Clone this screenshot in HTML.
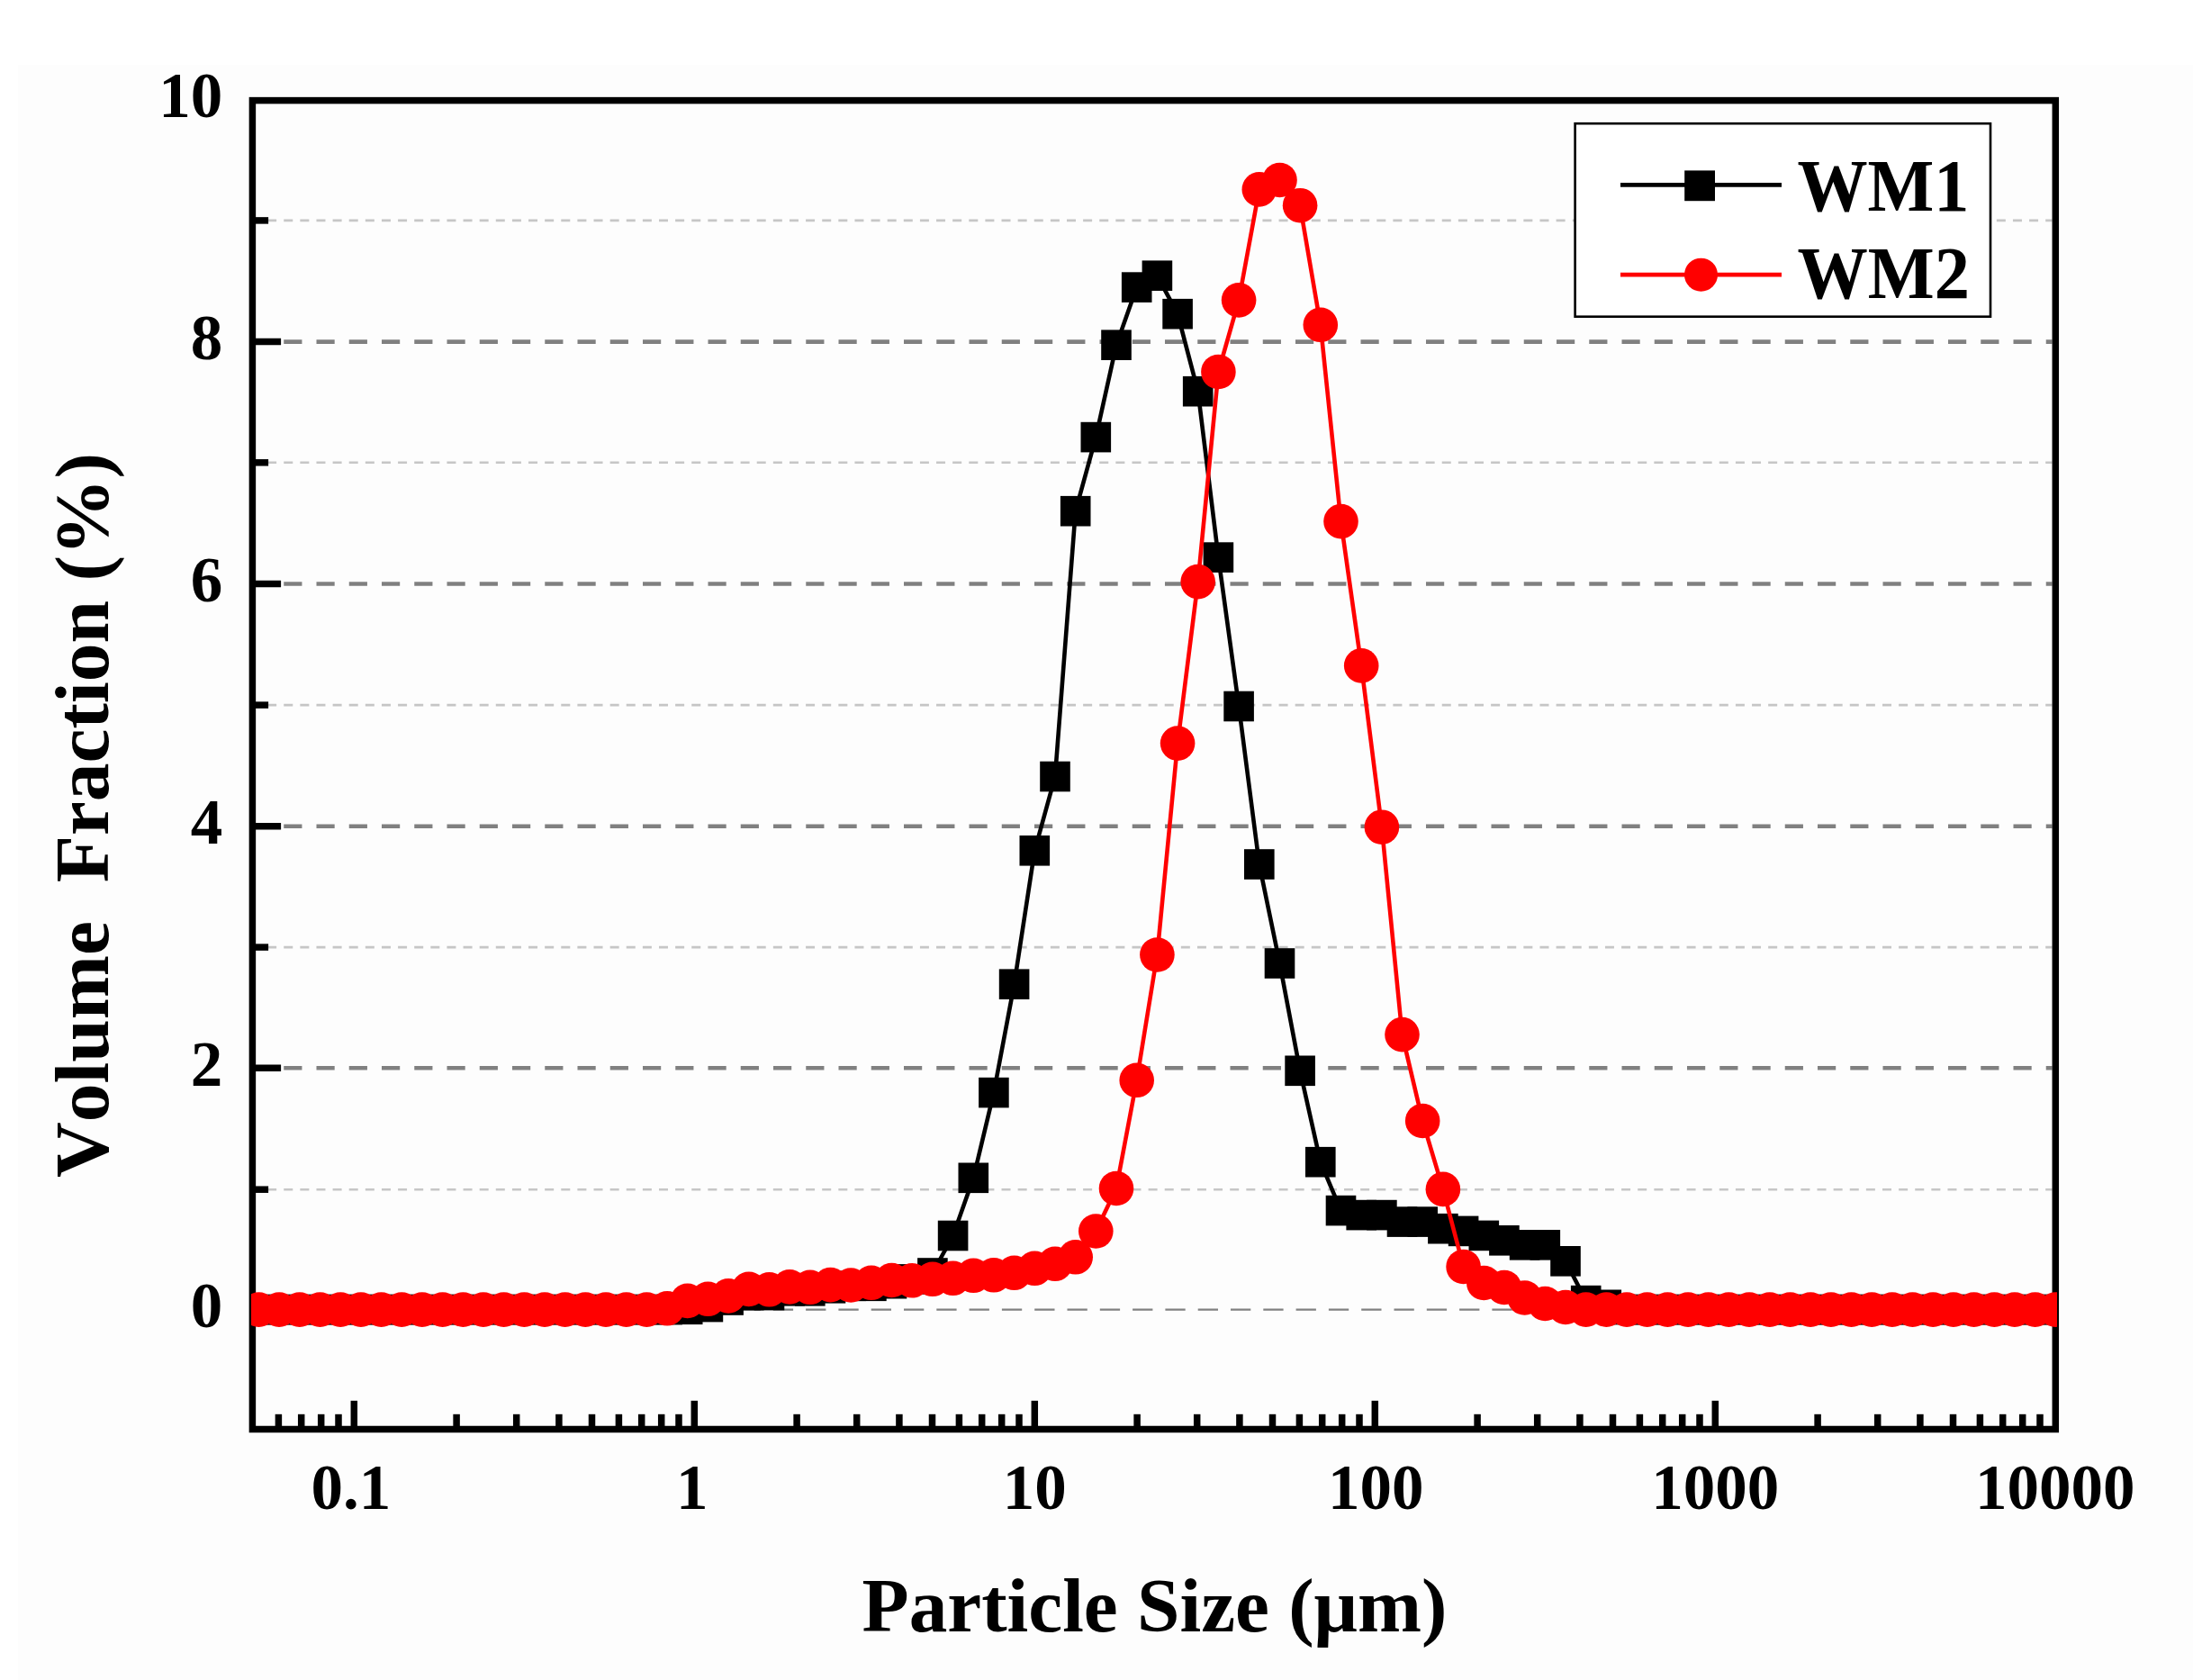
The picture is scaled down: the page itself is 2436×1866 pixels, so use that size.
<!DOCTYPE html>
<html lang="en"><head><meta charset="utf-8">
<title>Particle size distribution of WM1 and WM2</title>
<style>
html,body{margin:0;padding:0;background:#fff;}
body{width:2436px;height:1866px;overflow:hidden;}
svg{display:block;}
text{font-family:"Liberation Serif","Times New Roman",Times,serif;font-weight:bold;fill:#000;font-kerning:none;font-variant-ligatures:none;}
.tick{font-size:71px;}
.title{font-size:85.3px;}
.leg{font-size:83px;}
</style></head><body>
<svg width="2436" height="1866" viewBox="0 0 2436 1866">
<rect x="0" y="0" width="2436" height="1866" fill="#ffffff"/>
<rect x="20" y="72" width="2416" height="1794" fill="#fdfdfd"/>
<defs><clipPath id="plot"><rect x="279" y="111.6" width="2006.0" height="1475.9"/></clipPath></defs>
<g id="grid-minor" stroke="#c6c6c6" stroke-width="2.6" stroke-dasharray="10 8.12" fill="none">
<line x1="279" y1="244.9" x2="2279.6" y2="244.9"/>
<line x1="279" y1="513.8" x2="2279.6" y2="513.8"/>
<line x1="279" y1="783.1" x2="2279.6" y2="783.1"/>
<line x1="279" y1="1052.1" x2="2279.6" y2="1052.1"/>
<line x1="279" y1="1321.2" x2="2279.6" y2="1321.2"/>
</g>
<g id="grid-major" stroke="#808080" stroke-width="4.6" stroke-dasharray="20.2 16.05" fill="none">
<line x1="279" y1="379.6" x2="2279.6" y2="379.6"/>
<line x1="279" y1="648.5" x2="2279.6" y2="648.5"/>
<line x1="279" y1="917.7" x2="2279.6" y2="917.7"/>
<line x1="279" y1="1186.3" x2="2279.6" y2="1186.3"/>
<line x1="278" y1="1454.6" x2="2279.6" y2="1454.6" stroke-width="2.2" stroke-dasharray="22.3 14"/>
</g>
<rect id="frame" x="280.4" y="111.6" width="2002.9" height="1475.9" fill="none" stroke="#000" stroke-width="7.5"/>
<g id="ticks" stroke="#000" stroke-width="7.5" fill="none">
<line x1="280.4" y1="1454.6" x2="312.1" y2="1454.6"/>
<line x1="280.4" y1="1321.2" x2="298.1" y2="1321.2"/>
<line x1="280.4" y1="1186.3" x2="312.1" y2="1186.3"/>
<line x1="280.4" y1="1052.1" x2="298.1" y2="1052.1"/>
<line x1="280.4" y1="917.7" x2="312.1" y2="917.7"/>
<line x1="280.4" y1="783.1" x2="298.1" y2="783.1"/>
<line x1="280.4" y1="648.5" x2="312.1" y2="648.5"/>
<line x1="280.4" y1="513.8" x2="298.1" y2="513.8"/>
<line x1="280.4" y1="379.6" x2="312.1" y2="379.6"/>
<line x1="280.4" y1="244.9" x2="298.1" y2="244.9"/>
<line x1="309.4" y1="1587.5" x2="309.4" y2="1570.8"/>
<line x1="334.7" y1="1587.5" x2="334.7" y2="1570.8"/>
<line x1="356.7" y1="1587.5" x2="356.7" y2="1570.8"/>
<line x1="376.0" y1="1587.5" x2="376.0" y2="1570.8"/>
<line x1="393.3" y1="1587.5" x2="393.3" y2="1555.8"/>
<line x1="507.1" y1="1587.5" x2="507.1" y2="1570.8"/>
<line x1="573.7" y1="1587.5" x2="573.7" y2="1570.8"/>
<line x1="620.9" y1="1587.5" x2="620.9" y2="1570.8"/>
<line x1="657.5" y1="1587.5" x2="657.5" y2="1570.8"/>
<line x1="687.4" y1="1587.5" x2="687.4" y2="1570.8"/>
<line x1="712.7" y1="1587.5" x2="712.7" y2="1570.8"/>
<line x1="734.7" y1="1587.5" x2="734.7" y2="1570.8"/>
<line x1="754.0" y1="1587.5" x2="754.0" y2="1570.8"/>
<line x1="771.3" y1="1587.5" x2="771.3" y2="1555.8"/>
<line x1="885.1" y1="1587.5" x2="885.1" y2="1570.8"/>
<line x1="951.7" y1="1587.5" x2="951.7" y2="1570.8"/>
<line x1="998.9" y1="1587.5" x2="998.9" y2="1570.8"/>
<line x1="1035.5" y1="1587.5" x2="1035.5" y2="1570.8"/>
<line x1="1065.4" y1="1587.5" x2="1065.4" y2="1570.8"/>
<line x1="1090.7" y1="1587.5" x2="1090.7" y2="1570.8"/>
<line x1="1112.7" y1="1587.5" x2="1112.7" y2="1570.8"/>
<line x1="1132.0" y1="1587.5" x2="1132.0" y2="1570.8"/>
<line x1="1149.3" y1="1587.5" x2="1149.3" y2="1555.8"/>
<line x1="1263.1" y1="1587.5" x2="1263.1" y2="1570.8"/>
<line x1="1329.7" y1="1587.5" x2="1329.7" y2="1570.8"/>
<line x1="1376.9" y1="1587.5" x2="1376.9" y2="1570.8"/>
<line x1="1413.5" y1="1587.5" x2="1413.5" y2="1570.8"/>
<line x1="1443.4" y1="1587.5" x2="1443.4" y2="1570.8"/>
<line x1="1468.7" y1="1587.5" x2="1468.7" y2="1570.8"/>
<line x1="1490.7" y1="1587.5" x2="1490.7" y2="1570.8"/>
<line x1="1510.0" y1="1587.5" x2="1510.0" y2="1570.8"/>
<line x1="1527.3" y1="1587.5" x2="1527.3" y2="1555.8"/>
<line x1="1641.1" y1="1587.5" x2="1641.1" y2="1570.8"/>
<line x1="1707.7" y1="1587.5" x2="1707.7" y2="1570.8"/>
<line x1="1754.9" y1="1587.5" x2="1754.9" y2="1570.8"/>
<line x1="1791.5" y1="1587.5" x2="1791.5" y2="1570.8"/>
<line x1="1821.4" y1="1587.5" x2="1821.4" y2="1570.8"/>
<line x1="1846.7" y1="1587.5" x2="1846.7" y2="1570.8"/>
<line x1="1868.7" y1="1587.5" x2="1868.7" y2="1570.8"/>
<line x1="1888.0" y1="1587.5" x2="1888.0" y2="1570.8"/>
<line x1="1905.3" y1="1587.5" x2="1905.3" y2="1555.8"/>
<line x1="2019.1" y1="1587.5" x2="2019.1" y2="1570.8"/>
<line x1="2085.7" y1="1587.5" x2="2085.7" y2="1570.8"/>
<line x1="2132.9" y1="1587.5" x2="2132.9" y2="1570.8"/>
<line x1="2169.5" y1="1587.5" x2="2169.5" y2="1570.8"/>
<line x1="2199.4" y1="1587.5" x2="2199.4" y2="1570.8"/>
<line x1="2224.7" y1="1587.5" x2="2224.7" y2="1570.8"/>
<line x1="2246.7" y1="1587.5" x2="2246.7" y2="1570.8"/>
<line x1="2266.0" y1="1587.5" x2="2266.0" y2="1570.8"/>
</g>
<g id="data" clip-path="url(#plot)">
<polyline points="287.5,1454.6 310.1,1454.6 332.8,1454.6 355.5,1454.6 378.2,1454.6 400.9,1454.6 423.5,1454.6 446.2,1454.6 468.9,1454.6 491.6,1454.6 514.3,1454.6 536.9,1454.6 559.6,1454.6 582.3,1454.6 605.0,1454.6 627.7,1454.6 650.3,1454.6 673.0,1454.6 695.7,1454.6 718.4,1454.6 741.1,1454.6 763.7,1454.3 786.4,1451.6 809.1,1444.0 831.8,1438.6 854.5,1438.6 877.1,1433.8 899.8,1433.8 922.5,1430.8 945.2,1428.3 967.9,1428.3 990.5,1425.7 1013.2,1420.9 1035.9,1414.0 1058.6,1372.5 1081.3,1308.3 1103.9,1213.6 1126.6,1093.2 1149.3,944.8 1172.0,862.5 1194.7,567.7 1217.3,485.6 1240.0,383.2 1262.7,319.1 1285.4,306.2 1308.1,348.7 1330.7,434.7 1353.4,619.1 1376.1,784.5 1398.8,960.0 1421.5,1070.0 1444.1,1189.3 1466.8,1290.7 1489.5,1344.6 1512.2,1349.6 1534.9,1349.6 1557.5,1357.1 1580.2,1357.1 1602.9,1364.7 1625.6,1367.4 1648.3,1372.4 1670.9,1377.8 1693.6,1382.8 1716.3,1382.8 1739.0,1400.8 1761.7,1444.6 1784.3,1449.3 1807.0,1454.6 1829.7,1454.6 1852.4,1454.6 1875.1,1454.6 1897.7,1454.6 1920.4,1454.6 1943.1,1454.6 1965.8,1454.6 1988.5,1454.6 2011.1,1454.6 2033.8,1454.6 2056.5,1454.6 2079.2,1454.6 2101.9,1454.6 2124.5,1454.6 2147.2,1454.6 2169.9,1454.6 2192.6,1454.6 2215.3,1454.6 2237.9,1454.6 2260.6,1454.6 2283.3,1454.6" fill="none" stroke="#000" stroke-width="4.6" stroke-linejoin="round"/>
<g fill="#000">
<rect x="270.7" y="1437.8" width="33.6" height="33.6"/>
<rect x="293.3" y="1437.8" width="33.6" height="33.6"/>
<rect x="316.0" y="1437.8" width="33.6" height="33.6"/>
<rect x="338.7" y="1437.8" width="33.6" height="33.6"/>
<rect x="361.4" y="1437.8" width="33.6" height="33.6"/>
<rect x="384.1" y="1437.8" width="33.6" height="33.6"/>
<rect x="406.7" y="1437.8" width="33.6" height="33.6"/>
<rect x="429.4" y="1437.8" width="33.6" height="33.6"/>
<rect x="452.1" y="1437.8" width="33.6" height="33.6"/>
<rect x="474.8" y="1437.8" width="33.6" height="33.6"/>
<rect x="497.5" y="1437.8" width="33.6" height="33.6"/>
<rect x="520.1" y="1437.8" width="33.6" height="33.6"/>
<rect x="542.8" y="1437.8" width="33.6" height="33.6"/>
<rect x="565.5" y="1437.8" width="33.6" height="33.6"/>
<rect x="588.2" y="1437.8" width="33.6" height="33.6"/>
<rect x="610.9" y="1437.8" width="33.6" height="33.6"/>
<rect x="633.5" y="1437.8" width="33.6" height="33.6"/>
<rect x="656.2" y="1437.8" width="33.6" height="33.6"/>
<rect x="678.9" y="1437.8" width="33.6" height="33.6"/>
<rect x="701.6" y="1437.8" width="33.6" height="33.6"/>
<rect x="724.3" y="1437.8" width="33.6" height="33.6"/>
<rect x="746.9" y="1437.5" width="33.6" height="33.6"/>
<rect x="769.6" y="1434.8" width="33.6" height="33.6"/>
<rect x="792.3" y="1427.2" width="33.6" height="33.6"/>
<rect x="815.0" y="1421.8" width="33.6" height="33.6"/>
<rect x="837.7" y="1421.8" width="33.6" height="33.6"/>
<rect x="860.3" y="1417.0" width="33.6" height="33.6"/>
<rect x="883.0" y="1417.0" width="33.6" height="33.6"/>
<rect x="905.7" y="1414.0" width="33.6" height="33.6"/>
<rect x="928.4" y="1411.5" width="33.6" height="33.6"/>
<rect x="951.1" y="1411.5" width="33.6" height="33.6"/>
<rect x="973.7" y="1408.9" width="33.6" height="33.6"/>
<rect x="996.4" y="1404.1" width="33.6" height="33.6"/>
<rect x="1019.1" y="1397.2" width="33.6" height="33.6"/>
<rect x="1041.8" y="1355.7" width="33.6" height="33.6"/>
<rect x="1064.5" y="1291.5" width="33.6" height="33.6"/>
<rect x="1087.1" y="1196.8" width="33.6" height="33.6"/>
<rect x="1109.8" y="1076.4" width="33.6" height="33.6"/>
<rect x="1132.5" y="928.0" width="33.6" height="33.6"/>
<rect x="1155.2" y="845.7" width="33.6" height="33.6"/>
<rect x="1177.9" y="550.9" width="33.6" height="33.6"/>
<rect x="1200.5" y="468.8" width="33.6" height="33.6"/>
<rect x="1223.2" y="366.4" width="33.6" height="33.6"/>
<rect x="1245.9" y="302.3" width="33.6" height="33.6"/>
<rect x="1268.6" y="289.4" width="33.6" height="33.6"/>
<rect x="1291.3" y="331.9" width="33.6" height="33.6"/>
<rect x="1313.9" y="417.9" width="33.6" height="33.6"/>
<rect x="1336.6" y="602.3" width="33.6" height="33.6"/>
<rect x="1359.3" y="767.7" width="33.6" height="33.6"/>
<rect x="1382.0" y="943.2" width="33.6" height="33.6"/>
<rect x="1404.7" y="1053.2" width="33.6" height="33.6"/>
<rect x="1427.3" y="1172.5" width="33.6" height="33.6"/>
<rect x="1450.0" y="1273.9" width="33.6" height="33.6"/>
<rect x="1472.7" y="1327.8" width="33.6" height="33.6"/>
<rect x="1495.4" y="1332.8" width="33.6" height="33.6"/>
<rect x="1518.1" y="1332.8" width="33.6" height="33.6"/>
<rect x="1540.7" y="1340.3" width="33.6" height="33.6"/>
<rect x="1563.4" y="1340.3" width="33.6" height="33.6"/>
<rect x="1586.1" y="1347.9" width="33.6" height="33.6"/>
<rect x="1608.8" y="1350.6" width="33.6" height="33.6"/>
<rect x="1631.5" y="1355.6" width="33.6" height="33.6"/>
<rect x="1654.1" y="1361.0" width="33.6" height="33.6"/>
<rect x="1676.8" y="1366.0" width="33.6" height="33.6"/>
<rect x="1699.5" y="1366.0" width="33.6" height="33.6"/>
<rect x="1722.2" y="1384.0" width="33.6" height="33.6"/>
<rect x="1744.9" y="1427.8" width="33.6" height="33.6"/>
<rect x="1767.5" y="1432.5" width="33.6" height="33.6"/>
<rect x="1790.2" y="1437.8" width="33.6" height="33.6"/>
<rect x="1812.9" y="1437.8" width="33.6" height="33.6"/>
<rect x="1835.6" y="1437.8" width="33.6" height="33.6"/>
<rect x="1858.3" y="1437.8" width="33.6" height="33.6"/>
<rect x="1880.9" y="1437.8" width="33.6" height="33.6"/>
<rect x="1903.6" y="1437.8" width="33.6" height="33.6"/>
<rect x="1926.3" y="1437.8" width="33.6" height="33.6"/>
<rect x="1949.0" y="1437.8" width="33.6" height="33.6"/>
<rect x="1971.7" y="1437.8" width="33.6" height="33.6"/>
<rect x="1994.3" y="1437.8" width="33.6" height="33.6"/>
<rect x="2017.0" y="1437.8" width="33.6" height="33.6"/>
<rect x="2039.7" y="1437.8" width="33.6" height="33.6"/>
<rect x="2062.4" y="1437.8" width="33.6" height="33.6"/>
<rect x="2085.1" y="1437.8" width="33.6" height="33.6"/>
<rect x="2107.7" y="1437.8" width="33.6" height="33.6"/>
<rect x="2130.4" y="1437.8" width="33.6" height="33.6"/>
<rect x="2153.1" y="1437.8" width="33.6" height="33.6"/>
<rect x="2175.8" y="1437.8" width="33.6" height="33.6"/>
<rect x="2198.5" y="1437.8" width="33.6" height="33.6"/>
<rect x="2221.1" y="1437.8" width="33.6" height="33.6"/>
<rect x="2243.8" y="1437.8" width="33.6" height="33.6"/>
<rect x="2266.5" y="1437.8" width="33.6" height="33.6"/>
</g>
<polyline points="287.5,1454.6 310.1,1454.6 332.8,1454.6 355.5,1454.6 378.2,1454.6 400.9,1454.6 423.5,1454.6 446.2,1454.6 468.9,1454.6 491.6,1454.6 514.3,1454.6 536.9,1454.6 559.6,1454.6 582.3,1454.6 605.0,1454.6 627.7,1454.6 650.3,1454.6 673.0,1454.6 695.7,1454.6 718.4,1454.6 741.1,1453.3 763.7,1444.9 786.4,1442.8 809.1,1439.4 831.8,1431.9 854.5,1432.3 877.1,1429.4 899.8,1429.8 922.5,1427.1 945.2,1427.5 967.9,1424.8 990.5,1422.0 1013.2,1422.3 1035.9,1420.8 1058.6,1419.8 1081.3,1416.8 1103.9,1416.3 1126.6,1413.8 1149.3,1408.8 1172.0,1403.8 1194.7,1396.3 1217.3,1367.5 1240.0,1320.0 1262.7,1199.8 1285.4,1060.5 1308.1,825.6 1330.7,646.1 1353.4,413.0 1376.1,333.4 1398.8,210.4 1421.5,200.0 1444.1,228.2 1466.8,360.8 1489.5,579.1 1512.2,739.4 1534.9,918.7 1557.5,1149.1 1580.2,1245.0 1602.9,1320.9 1625.6,1407.0 1648.3,1425.0 1670.9,1430.0 1693.6,1441.5 1716.3,1448.0 1739.0,1452.0 1761.7,1454.6 1784.3,1454.6 1807.0,1454.6 1829.7,1454.6 1852.4,1454.6 1875.1,1454.6 1897.7,1454.6 1920.4,1454.6 1943.1,1454.6 1965.8,1454.6 1988.5,1454.6 2011.1,1454.6 2033.8,1454.6 2056.5,1454.6 2079.2,1454.6 2101.9,1454.6 2124.5,1454.6 2147.2,1454.6 2169.9,1454.6 2192.6,1454.6 2215.3,1454.6 2237.9,1454.6 2260.6,1454.6 2283.3,1454.6" fill="none" stroke="#ff0000" stroke-width="4.6" stroke-linejoin="round"/>
<g fill="#ff0000">
<circle cx="287.5" cy="1454.6" r="19.3"/>
<circle cx="310.1" cy="1454.6" r="19.3"/>
<circle cx="332.8" cy="1454.6" r="19.3"/>
<circle cx="355.5" cy="1454.6" r="19.3"/>
<circle cx="378.2" cy="1454.6" r="19.3"/>
<circle cx="400.9" cy="1454.6" r="19.3"/>
<circle cx="423.5" cy="1454.6" r="19.3"/>
<circle cx="446.2" cy="1454.6" r="19.3"/>
<circle cx="468.9" cy="1454.6" r="19.3"/>
<circle cx="491.6" cy="1454.6" r="19.3"/>
<circle cx="514.3" cy="1454.6" r="19.3"/>
<circle cx="536.9" cy="1454.6" r="19.3"/>
<circle cx="559.6" cy="1454.6" r="19.3"/>
<circle cx="582.3" cy="1454.6" r="19.3"/>
<circle cx="605.0" cy="1454.6" r="19.3"/>
<circle cx="627.7" cy="1454.6" r="19.3"/>
<circle cx="650.3" cy="1454.6" r="19.3"/>
<circle cx="673.0" cy="1454.6" r="19.3"/>
<circle cx="695.7" cy="1454.6" r="19.3"/>
<circle cx="718.4" cy="1454.6" r="19.3"/>
<circle cx="741.1" cy="1453.3" r="19.3"/>
<circle cx="763.7" cy="1444.9" r="19.3"/>
<circle cx="786.4" cy="1442.8" r="19.3"/>
<circle cx="809.1" cy="1439.4" r="19.3"/>
<circle cx="831.8" cy="1431.9" r="19.3"/>
<circle cx="854.5" cy="1432.3" r="19.3"/>
<circle cx="877.1" cy="1429.4" r="19.3"/>
<circle cx="899.8" cy="1429.8" r="19.3"/>
<circle cx="922.5" cy="1427.1" r="19.3"/>
<circle cx="945.2" cy="1427.5" r="19.3"/>
<circle cx="967.9" cy="1424.8" r="19.3"/>
<circle cx="990.5" cy="1422.0" r="19.3"/>
<circle cx="1013.2" cy="1422.3" r="19.3"/>
<circle cx="1035.9" cy="1420.8" r="19.3"/>
<circle cx="1058.6" cy="1419.8" r="19.3"/>
<circle cx="1081.3" cy="1416.8" r="19.3"/>
<circle cx="1103.9" cy="1416.3" r="19.3"/>
<circle cx="1126.6" cy="1413.8" r="19.3"/>
<circle cx="1149.3" cy="1408.8" r="19.3"/>
<circle cx="1172.0" cy="1403.8" r="19.3"/>
<circle cx="1194.7" cy="1396.3" r="19.3"/>
<circle cx="1217.3" cy="1367.5" r="19.3"/>
<circle cx="1240.0" cy="1320.0" r="19.3"/>
<circle cx="1262.7" cy="1199.8" r="19.3"/>
<circle cx="1285.4" cy="1060.5" r="19.3"/>
<circle cx="1308.1" cy="825.6" r="19.3"/>
<circle cx="1330.7" cy="646.1" r="19.3"/>
<circle cx="1353.4" cy="413.0" r="19.3"/>
<circle cx="1376.1" cy="333.4" r="19.3"/>
<circle cx="1398.8" cy="210.4" r="19.3"/>
<circle cx="1421.5" cy="200.0" r="19.3"/>
<circle cx="1444.1" cy="228.2" r="19.3"/>
<circle cx="1466.8" cy="360.8" r="19.3"/>
<circle cx="1489.5" cy="579.1" r="19.3"/>
<circle cx="1512.2" cy="739.4" r="19.3"/>
<circle cx="1534.9" cy="918.7" r="19.3"/>
<circle cx="1557.5" cy="1149.1" r="19.3"/>
<circle cx="1580.2" cy="1245.0" r="19.3"/>
<circle cx="1602.9" cy="1320.9" r="19.3"/>
<circle cx="1625.6" cy="1407.0" r="19.3"/>
<circle cx="1648.3" cy="1425.0" r="19.3"/>
<circle cx="1670.9" cy="1430.0" r="19.3"/>
<circle cx="1693.6" cy="1441.5" r="19.3"/>
<circle cx="1716.3" cy="1448.0" r="19.3"/>
<circle cx="1739.0" cy="1452.0" r="19.3"/>
<circle cx="1761.7" cy="1454.6" r="19.3"/>
<circle cx="1784.3" cy="1454.6" r="19.3"/>
<circle cx="1807.0" cy="1454.6" r="19.3"/>
<circle cx="1829.7" cy="1454.6" r="19.3"/>
<circle cx="1852.4" cy="1454.6" r="19.3"/>
<circle cx="1875.1" cy="1454.6" r="19.3"/>
<circle cx="1897.7" cy="1454.6" r="19.3"/>
<circle cx="1920.4" cy="1454.6" r="19.3"/>
<circle cx="1943.1" cy="1454.6" r="19.3"/>
<circle cx="1965.8" cy="1454.6" r="19.3"/>
<circle cx="1988.5" cy="1454.6" r="19.3"/>
<circle cx="2011.1" cy="1454.6" r="19.3"/>
<circle cx="2033.8" cy="1454.6" r="19.3"/>
<circle cx="2056.5" cy="1454.6" r="19.3"/>
<circle cx="2079.2" cy="1454.6" r="19.3"/>
<circle cx="2101.9" cy="1454.6" r="19.3"/>
<circle cx="2124.5" cy="1454.6" r="19.3"/>
<circle cx="2147.2" cy="1454.6" r="19.3"/>
<circle cx="2169.9" cy="1454.6" r="19.3"/>
<circle cx="2192.6" cy="1454.6" r="19.3"/>
<circle cx="2215.3" cy="1454.6" r="19.3"/>
<circle cx="2237.9" cy="1454.6" r="19.3"/>
<circle cx="2260.6" cy="1454.6" r="19.3"/>
<circle cx="2283.3" cy="1454.6" r="19.3"/>
</g>
</g>
<g id="legend">
<rect x="1749.6" y="137.2" width="461.4" height="214.5" fill="#fff" stroke="#000" stroke-width="2.6"/>
<line x1="1800" y1="205.4" x2="1979" y2="205.4" stroke="#000" stroke-width="4.7"/>
<rect x="1871.2" y="189.4" width="33.8" height="33.8" fill="#000"/>
<line x1="1800" y1="305.2" x2="1979" y2="305.2" stroke="#ff0000" stroke-width="4.7"/>
<circle cx="1889.5" cy="305.2" r="18.5" fill="#ff0000"/>
<text class="leg" transform="translate(1996.4 234.3) scale(0.942 1)">WM1</text>
<text class="leg" transform="translate(1996.4 330.8) scale(0.944 1)">WM2</text>
</g>
<g id="xlabels" class="tick" text-anchor="middle">
<text x="389.8" y="1675.5">0.1</text>
<text x="768.8" y="1675.5">1</text>
<text x="1149.3" y="1675.5">10</text>
<text x="1528.3" y="1675.5">100</text>
<text x="1905.3" y="1675.5">1000</text>
<text x="2282.8" y="1675.5">10000</text>
</g>
<g id="ylabels" class="tick" text-anchor="end">
<text x="247.3" y="1473.9">0</text>
<text x="247.3" y="1205.6">2</text>
<text x="247.3" y="937.0">4</text>
<text x="247.3" y="667.8">6</text>
<text x="247.3" y="398.9">8</text>
<text x="247.3" y="129.8">10</text>
</g>
<text class="title" x="1282.5" y="1811.8" text-anchor="middle">Particle Size (μm)</text>
<text class="title" style="font-size:85.5px;white-space:pre" transform="translate(120.3 905.6) rotate(-90)" text-anchor="middle" xml:space="preserve">Volume  Fraction (%)</text>
</svg>
</body></html>
